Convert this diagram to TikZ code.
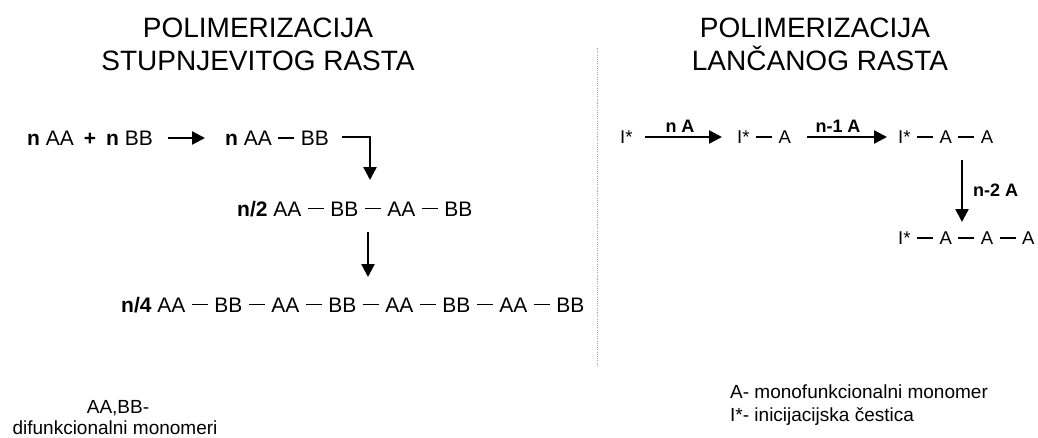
\documentclass[tikz,border=0pt]{standalone}
\usepackage{fontspec}
\setmainfont{Liberation Sans}
\usetikzlibrary{arrows.meta}
\newcommand\bnd{\hspace{6.5pt}\rule[0.31em]{16pt}{1.9pt}\hspace{6.5pt}}
\begin{document}
\begin{tikzpicture}[x=1pt,y=-1pt,
  chainL/.style={anchor=base west, inner sep=0pt, font=\fontsize{21}{25}\selectfont},
  chainR/.style={anchor=base west, inner sep=0pt, font=\fontsize{18.5}{22}\selectfont},
  lbl/.style={inner sep=0pt, font=\fontsize{18}{22}\selectfont\bfseries},
  ttl/.style={anchor=base, inner sep=0pt, font=\fontsize{28}{33}\selectfont},
  legend/.style={inner sep=0pt, font=\fontsize{19}{22}\selectfont},
  arr/.style={line width=2.4pt, -{Triangle[length=13pt,width=13pt]}},
  sep/.style={draw=gray!70, line width=1pt, dash pattern=on 1pt off 1.2pt},
  ]
\useasboundingbox (0,0) rectangle (1038,437);

% titles
\node[ttl] (tL1) at (258,37) {POLIMERIZACIJA};
\node[ttl] (tL2) at (258,70) {STUPNJEVITOG RASTA};
\node[ttl] (tR1) at (815,37) {POLIMERIZACIJA};
\node[ttl] (tR2) at (820,70) {LANČANOG RASTA};

% separator
\coordinate (sepTop) at (597,48);
\coordinate (sepBot) at (597,365);
\draw[sep] (sepTop) -- (sepBot);

% left chain
\node[chainL] (l1) at (27,145.5) {\textbf{n} AA\hspace{10pt}\textbf{+}\hspace{10pt}\textbf{n} BB};
\node[chainL] (l2) at (225,145.5) {\textbf{n} AA\bnd BB};
\node[chainL] (l3) at (237,216) {\textbf{n/2} AA\bnd BB\bnd AA\bnd BB};
\node[chainL] (l4) at (121,312) {\textbf{n/4} AA\bnd BB\bnd AA\bnd BB\bnd AA\bnd BB\bnd AA\bnd BB};

\coordinate (a1s) at (168,138);
\coordinate (a1e) at (205,138);
\draw[arr] (a1s) -- (a1e);
\coordinate (a2s) at (342,137);
\coordinate (a2c) at (370,137);
\coordinate (a2e) at (370,180);
\draw[arr] (a2s) -- (a2c) -- (a2e);
\coordinate (a3s) at (368,232);
\coordinate (a3e) at (368,277);
\draw[arr] (a3s) -- (a3e);

% right chain
\node[chainR] (r1) at (620,143.5) {I*};
\node[chainR] (r2) at (737,143.5) {I*\bnd A};
\node[chainR] (r3) at (898,143.5) {I*\bnd A\bnd A};
\node[chainR] (r4) at (898,244.5) {I*\bnd A\bnd A\bnd A};

\coordinate (b1s) at (645,137);
\coordinate (b1e) at (722,137);
\draw[arr] (b1s) -- (b1e);
\node[lbl, anchor=base] (lb1) at (680,132) {n A};
\coordinate (b2s) at (807,137);
\coordinate (b2e) at (887,137);
\draw[arr] (b2s) -- (b2e);
\node[lbl, anchor=base] (lb2) at (838,132) {n-1 A};
\coordinate (b3s) at (962,160);
\coordinate (b3e) at (962,222);
\draw[arr] (b3s) -- (b3e);
\node[lbl, anchor=base west] (lb3) at (973,196.5) {n-2 A};

% legends
\node[legend, anchor=base] (gL1) at (118,413) {AA,BB-};
\node[legend, anchor=base] (gL2) at (115,434) {difunkcionalni monomeri};
\node[legend, anchor=base west] (gR1) at (730,398) {A- monofunkcionalni monomer};
\node[legend, anchor=base west] (gR2) at (730,421) {I*- inicijacijska čestica};
\end{tikzpicture}
\end{document}
